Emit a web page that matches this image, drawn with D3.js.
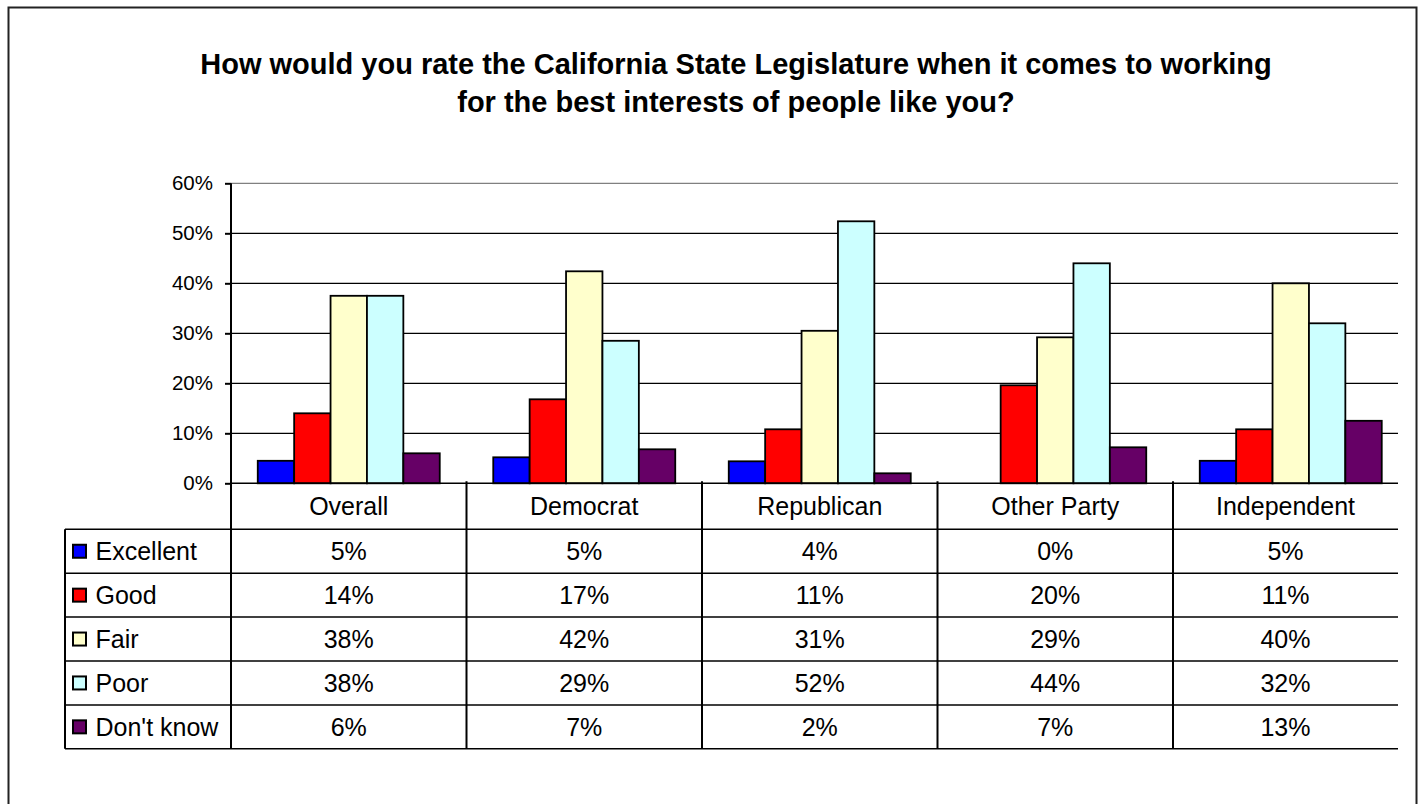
<!DOCTYPE html>
<html>
<head>
<meta charset="utf-8">
<script src="https://cdn.jsdelivr.net/npm/d3@7"></script>
<style>
  html, body { margin: 0; padding: 0; background: #fff; }
  svg { display: block; font-family: "Liberation Sans", Arial, sans-serif; }
</style>
</head>
<body>
<svg id="chart" width="1421" height="804"></svg>
<script>
// ---- data ----
const categories = ["Overall", "Democrat", "Republican", "Other Party", "Independent"];
const seriesNames = ["Excellent", "Good", "Fair", "Poor", "Don't know"];
const excellent = [4.5, 5.2, 4.4, 0, 4.5];
const good      = [14, 16.8, 10.8, 19.6, 10.8];
const fair      = [37.5, 42.4, 30.5, 29.2, 40];
const poor      = [37.5, 28.5, 52.4, 44, 32];
const dontKnow  = [6, 6.8, 2, 7.2, 12.5];
const seriesColors = ["#0000FF", "#FF0000", "#FFFFCC", "#CCFFFF", "#660066"];
const yTicks = [0, 10, 20, 30, 40, 50, 60];
const titleLines = [
  "How would you rate the California State Legislature when it comes to working",
  "for the best interests of people like you?"
];

const seriesValues = [excellent, good, fair, poor, dontKnow];

// ---- layout ----
const svg = d3.select("#chart");
const plotLeft = 231, plotRight = 1398, plotTop = 183.3, plotBottom = 483.3;
const catStep = 235.5;
const tableLeft = 65;
const headerBottom = 529.3, rowH = 43.9;
const tableFont = 25;

// frame
svg.append("rect").attr("x", 8.5).attr("y", 7.5).attr("width", 1408).attr("height", 820)
  .attr("fill", "none").attr("stroke", "#222").attr("stroke-width", 2);

// title
const title = svg.append("text").attr("text-anchor", "middle")
  .attr("font-weight", "bold").attr("font-size", 29).attr("fill", "#000");
titleLines.forEach((t, i) => {
  title.append("tspan").attr("x", 736).attr("y", 74 + i * 37.5).text(t);
});

// scales
const x0 = d3.scaleBand().domain(categories)
  .range([plotLeft, plotLeft + catStep * categories.length]).padding(0);
const x1 = d3.scaleBand().domain(seriesNames).range([0, x0.bandwidth()])
  .paddingInner(0).paddingOuter(0.735);
const y = d3.scaleLinear().domain([0, 60]).range([plotBottom, plotTop]);

// gridlines
svg.append("g").selectAll("line").data(yTicks.filter(d => d > 0)).join("line")
  .attr("x1", plotLeft).attr("x2", plotRight)
  .attr("y1", d => y(d)).attr("y2", d => y(d))
  .attr("stroke", d => d === 60 ? "#808080" : "#000")
  .attr("stroke-width", 1.3);

// bars
const rows = categories.map((c, ci) => ({ cat: c, vals: seriesValues.map(s => s[ci]) }));
const groups = svg.append("g").selectAll("g").data(rows).join("g")
  .attr("transform", d => `translate(${x0(d.cat)},0)`);
groups.selectAll("rect").data(d => d.vals.map((v, si) => ({ v, si })).filter(e => e.v > 0))
  .join("rect")
  .attr("x", d => x1(seriesNames[d.si]))
  .attr("width", x1.bandwidth())
  .attr("y", d => y(d.v))
  .attr("height", d => plotBottom - y(d.v))
  .attr("fill", d => seriesColors[d.si])
  .attr("stroke", "#000").attr("stroke-width", 1.8);

// y axis
const yAxis = d3.axisLeft(y).tickValues(yTicks).tickSize(6).tickPadding(12)
  .tickFormat(d => d + "%");
const ya = svg.append("g").attr("transform", `translate(${plotLeft},0)`).call(yAxis);
ya.select(".domain").remove();
ya.selectAll(".tick line").attr("stroke", "#000").attr("stroke-width", 2);
ya.selectAll(".tick text").attr("font-size", 20.5).attr("fill", "#000")
  .attr("font-family", "Liberation Sans, Arial, sans-serif");

// zero line
svg.append("line").attr("x1", plotLeft).attr("x2", plotRight)
  .attr("y1", plotBottom).attr("y2", plotBottom).attr("stroke", "#000").attr("stroke-width", 1.5);

// ---- data table ----
const tableBottom = headerBottom + rowH * seriesNames.length;
const tbl = svg.append("g");
const hLines = d3.range(seriesNames.length + 1).map(i => headerBottom + i * rowH);
tbl.selectAll("line.h").data(hLines).join("line").attr("class", "h")
  .attr("x1", tableLeft).attr("x2", plotRight)
  .attr("y1", d => d).attr("y2", d => d)
  .attr("stroke", "#000").attr("stroke-width", 1.5);
tbl.append("line").attr("x1", tableLeft).attr("x2", tableLeft)
  .attr("y1", headerBottom).attr("y2", tableBottom).attr("stroke", "#000").attr("stroke-width", 2);
tbl.append("line").attr("x1", plotLeft).attr("x2", plotLeft)
  .attr("y1", plotTop).attr("y2", tableBottom).attr("stroke", "#000").attr("stroke-width", 2);
tbl.selectAll("line.v").data(categories.slice(1)).join("line").attr("class", "v")
  .attr("x1", d => x0(d)).attr("x2", d => x0(d))
  .attr("y1", plotBottom - 2).attr("y2", tableBottom)
  .attr("stroke", "#000").attr("stroke-width", 2);

const colCenter = c => (x0(c) + Math.min(x0(c) + x0.bandwidth(), plotRight)) / 2;

// headers
tbl.selectAll("text.hd").data(categories).join("text").attr("class", "hd")
  .attr("x", colCenter).attr("y", (plotBottom + headerBottom) / 2)
  .attr("dy", "0.36em").attr("text-anchor", "middle")
  .attr("font-size", tableFont).attr("fill", "#000").text(d => d);

// legend keys, labels and values
seriesNames.forEach((s, si) => {
  const cy = headerBottom + si * rowH + rowH / 2;
  tbl.append("rect").attr("x", 73).attr("y", cy - 6.5).attr("width", 13).attr("height", 13)
    .attr("fill", seriesColors[si]).attr("stroke", "#000").attr("stroke-width", 2);
  tbl.append("text").attr("x", 95.5).attr("y", cy).attr("dy", "0.36em")
    .attr("font-size", tableFont).attr("fill", "#000").text(s);
  tbl.selectAll(null).data(categories).join("text")
    .attr("x", colCenter).attr("y", cy).attr("dy", "0.36em")
    .attr("text-anchor", "middle").attr("font-size", tableFont).attr("fill", "#000")
    .text((c, ci) => Math.round(seriesValues[si][ci]) + "%");
});
</script>
</body>
</html>
